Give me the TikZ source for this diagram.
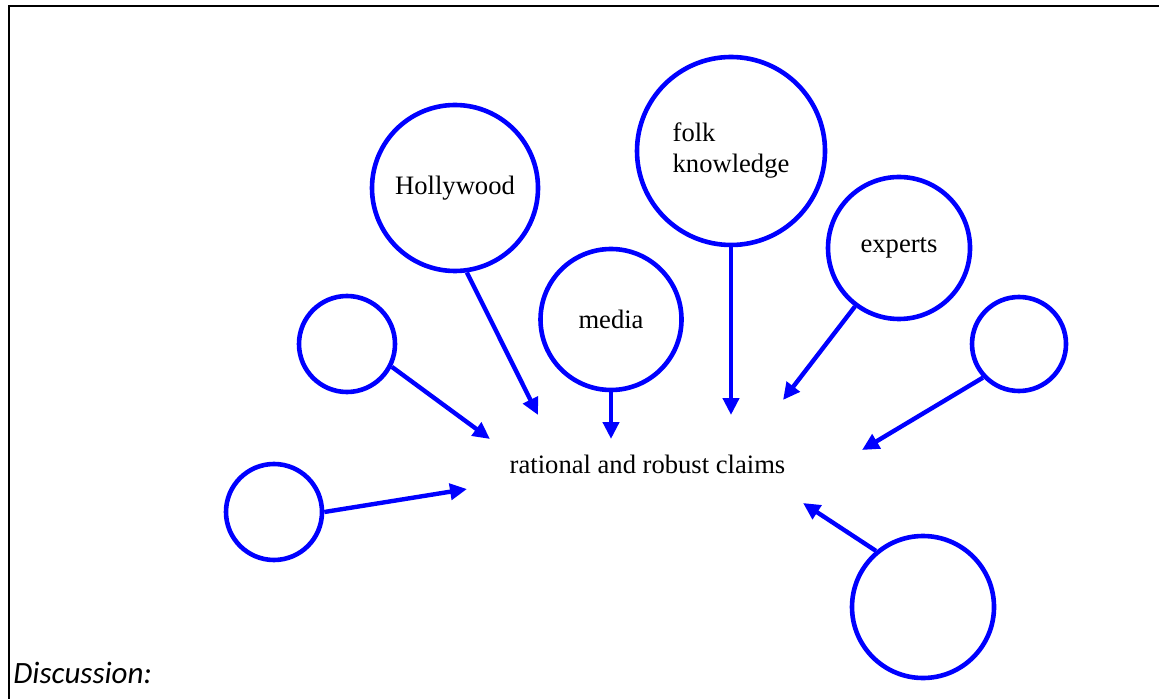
\documentclass[tikz,border=0pt]{standalone}
\usepackage{fontspec}
\setmainfont{Liberation Serif}
\newfontfamily\notefont{Carlito}
\usetikzlibrary{arrows.meta}

\begin{document}
\begin{tikzpicture}[x=0.5pt, y=-0.5pt,
  src/.style={circle, draw=blue, line width=2.3pt, inner sep=0pt, align=left,
    font=\fontsize{13.3}{15.5}\selectfont},
  feed/.style={blue, line width=2.2pt, -{Triangle[length=8.5pt,width=8pt]}}]
\useasboundingbox (0,0) rectangle (1159,699);
\draw[line width=1pt] (9,699) -- (9,6.5) -- (1159,6.5);
% sources
\node[src, minimum size=83pt] (hw) at (455,188) {Hollywood};
\node[src, minimum size=94pt] (fk) at (731,151) {folk\\knowledge};
\node[src, minimum size=70.5pt] (md) at (611,319.5) {media};
\node[src, minimum size=71pt] (ex) at (899,248) {experts};
\node[src, minimum size=48pt] (sl1) at (347,344) {};
\node[src, minimum size=48pt] (sl2) at (274,512) {};
\node[src, minimum size=47pt] (sr) at (1019,344) {};
\node[src, minimum size=71pt] (br) at (923,607) {};
% claims
\node[anchor=base, inner sep=0pt, font=\fontsize{13.3}{15.5}\selectfont] (claims) at (647.5,473) {rational and robust claims};
\coordinate (t1) at (490,439);
\coordinate (t2) at (538,415);
\coordinate (t3) at (611,439);
\coordinate (t4) at (731,415);
\coordinate (t5) at (783,400);
\coordinate (t6) at (862,450);
\coordinate (t7) at (803,503);
\coordinate (t8) at (467,489);
\draw[feed] (sl1.-27) -- (t1);
\draw[feed] (hw.-82) -- (t2);
\draw[feed] (md.south) -- (t3);
\draw[feed] (fk.south) -- (t4);
\draw[feed] (ex.-127) -- (t5);
\draw[feed] (sr.-137) -- (t6);
\draw[feed] (br.130) -- (t7);
\draw[feed] (sl2.east) -- (t8);
% labels
\node[anchor=base west, inner sep=0pt, font=\notefont\itshape\fontsize{15.5}{18}\selectfont] (disc) at (13,683) {Discussion:};
\end{tikzpicture}
\end{document}
